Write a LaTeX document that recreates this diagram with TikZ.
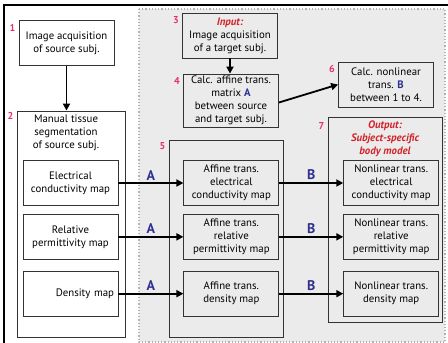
\documentclass[tikz,border=0pt]{standalone}
\usepackage{fontspec}
\setmainfont{PT Sans}
\usetikzlibrary{positioning, arrows.meta}

\definecolor{steppink}{HTML}{E5316B}
\definecolor{matblue}{HTML}{2E3192}
\definecolor{iored}{HTML}{D2232A}
\definecolor{panelgray}{HTML}{EBEBEB}
\definecolor{boxline}{HTML}{333333}

\newcommand{\matA}{\textbf{\color{matblue}A}}
\newcommand{\matB}{\textbf{\color{matblue}B}}

\begin{document}
\begin{tikzpicture}[x=1pt, y=-1pt, node distance=8pt and 65pt, >={Triangle[length=7pt, width=7pt]}]

\tikzset{
  block/.style={
    rectangle, draw=boxline, line width=0.85pt, align=center,
    minimum width=95pt, minimum height=45pt,
    inner sep=2pt, font=\fontsize{10.8}{13}\selectfont
  },
  holder/.style={rectangle, draw=boxline, line width=0.85pt},
  stepnum/.style={font=\bfseries\fontsize{10}{10}\selectfont, text=steppink,
    inner sep=1pt, anchor=north east},
  arrow/.style={->, line width=1.8pt},
  matlabel/.style={font=\bfseries\fontsize{14}{14}\selectfont, text=matblue,
    above, inner sep=2pt}
}

\useasboundingbox (0,0) rectangle (448,343);

% ==========================
% Grey panel (target side) + frame
% ==========================
\fill[panelgray] (139,9) rectangle (445,342);
\draw[gray!60, dotted, line width=1.2pt] (139,9) rectangle (445,342);
\draw[line width=2pt] (448,5) -- (4,5) -- (4,343);

% ==========================
% Group boxes
% ==========================
\node[holder, fill=white, minimum width=108pt, minimum height=226pt] (seg) at (71,224) {};
\node[holder, minimum width=114pt, minimum height=197pt] (affgrp) at (226,238.5) {};
\node[holder, minimum width=114pt, minimum height=205pt] (outgrp) at (385,219.5) {};

\node[font=\fontsize{10.8}{13}\selectfont, align=center, anchor=north] (segtitle) at (66,111)
{Manual tissue\\segmentation\\of source subj.};
\node[font=\bfseries\itshape\fontsize{10.8}{13}\selectfont, text=iored, align=center, anchor=north]
(outtitle) at ([yshift=-1pt]outgrp.north) {Output:\\Subject-specific\\body model};

% ==========================
% Source side
% ==========================
\node[block, fill=white] (srcimg) at (66.5,43) {Image acquisition\\of source subj.};
\node[block, fill=white] (cond) at (70.5,183) {Electrical\\conductivity map};
\node[block, fill=white, below=of cond] (perm) {Relative\\permittivity map};
\node[block, fill=white, below=11pt of perm, align=right, text width=87pt] (dens) {Density map};

% ==========================
% Target side
% ==========================
\node[block] (trgimg) at (230,35.5) {\textbf{\itshape\color{iored}Input:}\\Image acquisition\\of a target subj.};
\node[block, minimum height=53pt] (affcalc) at (231,100.5)
{Calc. affine trans.\\matrix \matA\\between source\\and target subj.};
\node[block] (nlcalc) at (386,84.5) {Calc. nonlinear\\trans. \matB\\between 1 to 4.};

\node[block, right=65pt of cond] (affcond) {Affine trans.\\electrical\\conductivity map};
\node[block, right=65pt of perm] (affperm) {Affine trans.\\relative\\permittivity map};
\node[block, right=65pt of dens] (affdens) {Affine trans.\\density map};

\node[block, right=64pt of affcond] (nlcond) {Nonlinear trans.\\electrical\\conductivity map};
\node[block, right=64pt of affperm] (nlperm) {Nonlinear trans.\\relative\\permittivity map};
\node[block, right=64pt of affdens] (nldens) {Nonlinear trans.\\density map};

% step numbers
\node[stepnum] at ([xshift=-2pt, yshift=-3pt]srcimg.north west) {1};
\node[stepnum] at ([xshift=-2pt, yshift=-1pt]seg.north west) {2};
\node[stepnum] at ([xshift=-2pt, yshift=-3pt]trgimg.north west) {3};
\node[stepnum] at ([xshift=-2pt, yshift=-3pt]affcalc.north west) {4};
\node[stepnum] at ([xshift=-2pt, yshift=-2pt]affgrp.north west) {5};
\node[stepnum] at ([xshift=-2pt, yshift=-3pt]nlcalc.north west) {6};
\node[stepnum] at ([xshift=-2pt, yshift=-5pt]outgrp.north west) {7};

% ==========================
% Arrows
% ==========================
\draw[arrow] (srcimg.south) -- (srcimg.south |- seg.north);
\draw[arrow] (trgimg.south) -- (trgimg.south |- affcalc.north);
\draw[arrow] ([yshift=-2pt]affcalc.east) -- (nlcalc.west);

\draw[arrow] (cond) -- node[matlabel]{A} (affcond);
\draw[arrow] (perm) -- node[matlabel]{A} (affperm);
\draw[arrow] (dens) -- node[matlabel]{A} (affdens);

\draw[arrow] (affcond) -- node[matlabel]{B} (nlcond);
\draw[arrow] (affperm) -- node[matlabel]{B} (nlperm);
\draw[arrow] (affdens) -- node[matlabel]{B} (nldens);

\end{tikzpicture}
\end{document}
